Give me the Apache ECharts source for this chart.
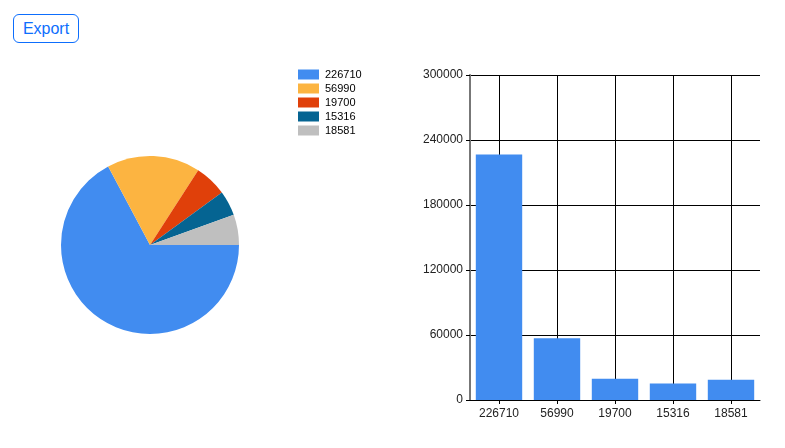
<!DOCTYPE html>
<html>
<head>
<meta charset="utf-8">
<script src="https://cdn.jsdelivr.net/npm/echarts@6/dist/echarts.min.js"></script>
<style>
  html, body { margin: 0; padding: 0; background: #fff; }
  #chart { position: absolute; left: 0; top: 0; width: 785px; height: 448px; }
  #export {
    position: absolute; left: 13px; top: 14px; width: 66px; height: 29px;
    box-sizing: border-box; border: 1px solid #0d6efd; border-radius: 6px;
    background: #fff; color: #0d6efd; font-family: "Liberation Sans", Arial, sans-serif;
    font-size: 16px; padding: 0; z-index: 10; cursor: pointer;
  }
</style>
</head>
<body>
<div id="chart"></div>
<button id="export">Export</button>
<script>
const categories = ['226710', '56990', '19700', '15316', '18581'];
const values = [226710, 56990, 19700, 15316, 18581];
const colors = ['#418CF0', '#FCB441', '#E0400A', '#056492', '#BFBFBF'];
const yTicks = { min: 0, max: 300000, interval: 60000 };

const chart = echarts.init(document.getElementById('chart'));
const font = '"Liberation Sans", Arial, sans-serif';
chart.setOption({
  animation: false,
  legend: {
    orient: 'vertical', left: 293, top: 64,
    itemWidth: 21, itemHeight: 10, itemGap: 3,
    icon: 'rect', selectedMode: false,
    textStyle: { fontSize: 11, lineHeight: 10, color: '#000', fontFamily: font, padding: [0, 0, 0, 1] },
    data: categories
  },
  grid: { left: 470, right: 25, top: 75, bottom: 48 },
  xAxis: [{
    type: 'category', data: categories,
    axisLine: { show: true, lineStyle: { color: '#000', width: 1 } },
    axisTick: { show: true, alignWithLabel: true, inside: true, length: 325, lineStyle: { color: '#000', width: 1 } },
    axisLabel: { color: '#222', fontSize: 12, fontFamily: font, margin: 8 },
    splitLine: { show: false }
  }, {
    type: 'category', data: categories, position: 'bottom',
    axisLine: { show: false },
    axisTick: { show: true, alignWithLabel: true, length: 4, lineStyle: { color: '#000', width: 1 } },
    axisLabel: { show: false }
  }],
  yAxis: {
    type: 'value', min: yTicks.min, max: yTicks.max, interval: yTicks.interval,
    axisLine: { show: true, lineStyle: { color: '#777', width: 2 } },
    axisTick: { show: true, length: 4, lineStyle: { color: '#000' } },
    axisLabel: { color: '#222', fontSize: 12, fontFamily: font, margin: 7, formatter: v => String(v) },
    splitLine: { show: true, lineStyle: { color: '#000', width: 1 } }
  },
  series: [{
    type: 'pie', center: [150, 245], radius: 89,
    startAngle: 0, clockwise: true,
    label: { show: false }, labelLine: { show: false },
    emphasis: { disabled: true },
    data: categories.map((c, i) => ({ name: c, value: values[i], itemStyle: { color: colors[i] } }))
  }, {
    type: 'bar', xAxisIndex: 0, data: values,
    barCategoryGap: '20%', z: 5,
    itemStyle: { color: '#418CF0' }
  }]
});
</script>
</body>
</html>
